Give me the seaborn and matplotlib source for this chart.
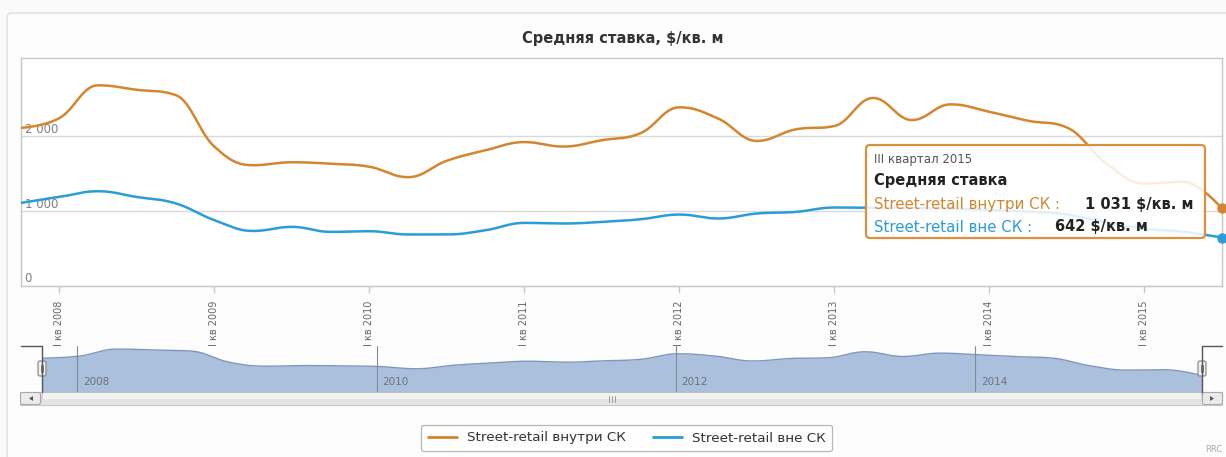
import numpy as np
import pandas as pd
import matplotlib
matplotlib.use("Agg")
import matplotlib.pyplot as plt
from matplotlib.patches import FancyBboxPatch, Rectangle, Polygon
from matplotlib.lines import Line2D
import seaborn as sns

# ---- data: average rent, $/sq. m, quarterly from Q4 2007 to Q3 2015 ----
inside_sc = [2110, 2240, 2680, 2620, 2550, 1860, 1610, 1650, 1630, 1590, 1450, 1670,
             1810, 1920, 1860, 1945, 2040, 2385, 2235, 1935, 2090, 2135, 2510, 2215,
             2425, 2325, 2205, 2115, 1640, 1365, 1390, 1031]
outside_sc = [1105, 1185, 1262, 1185, 1100, 875, 730, 785, 718, 727, 683, 683,
              740, 838, 830, 851, 887, 950, 897, 964, 985, 1044, 1040, 1035,
              1030, 1010, 990, 950, 850, 760, 720, 642]
series_names = ["Street-retail внутри СК", "Street-retail вне СК"]
tick_years = [2008, 2009, 2010, 2011, 2012, 2013, 2014, 2015]
tick_labels = [f"I кв {y}" for y in tick_years]
nav_years = [2008, 2010, 2012, 2014]
y_ticks = [0, 1000, 2000]

title = "Средняя ставка, $/кв. м"
tooltip_period = "III квартал 2015"
tooltip_title = "Средняя ставка"
unit = "$/кв. м"

C_IN = "#d4862f"
C_OUT = "#2b9cd8"
NAV_FILL = "#abc0dc"
NAV_LINE = "#7d96ba"

W, H = 1226, 457


def fmt(v):
    return f"{int(v):,}".replace(",", " ")


def spline_path(xs, ys, n=30, smoothing=1.5):
    """Smooth Bezier path through the points (Highcharts-style spline)."""
    N = len(xs)
    lc = [None] * N
    rc = [None] * N
    d = smoothing + 1
    for i in range(1, N - 1):
        x0, y0 = xs[i - 1], ys[i - 1]
        x, y = xs[i], ys[i]
        x1, y1 = xs[i + 1], ys[i + 1]
        lx = (smoothing * x + x0) / d
        ly = (smoothing * y + y0) / d
        rx = (smoothing * x + x1) / d
        ry = (smoothing * y + y1) / d
        corr = ((ry - ly) * (rx - x)) / (rx - lx) + y - ry
        ly += corr
        ry += corr
        if ly > y0 and ly > y:
            ly = max(y0, y); ry = 2 * y - ly
        elif ly < y0 and ly < y:
            ly = min(y0, y); ry = 2 * y - ly
        if ry > y1 and ry > y:
            ry = max(y1, y); ly = 2 * y - ry
        elif ry < y1 and ry < y:
            ry = min(y1, y); ly = 2 * y - ry
        lc[i] = (lx, ly)
        rc[i] = (rx, ry)
    px, py = [xs[0]], [ys[0]]
    t = np.linspace(0, 1, n)[1:]
    for i in range(1, N):
        p0 = np.array([xs[i - 1], ys[i - 1]], float)
        p3 = np.array([xs[i], ys[i]], float)
        p1 = np.array(rc[i - 1] if rc[i - 1] else p0, float)
        p2 = np.array(lc[i] if lc[i] else p3, float)
        b = ((1 - t) ** 3)[:, None] * p0 + (3 * (1 - t) ** 2 * t)[:, None] * p1 \
            + (3 * (1 - t) * t ** 2)[:, None] * p2 + (t ** 3)[:, None] * p3
        px.extend(b[:, 0]); py.extend(b[:, 1])
    return np.array(px), np.array(py)


def box(l, t, r, b):
    return [l / W, 1 - b / H, (r - l) / W, (b - t) / H]


sns.set_style("white")
plt.rcParams["font.family"] = ["DejaVu Sans"]

fig = plt.figure(figsize=(W / 100, H / 100), dpi=100, facecolor="#fafafa")

# background layer (pixel coordinates)
bg = fig.add_axes([0, 0, 1, 1], zorder=0)
bg.set_xlim(0, W); bg.set_ylim(H, 0); bg.axis("off")
bg.add_patch(FancyBboxPatch((7, 13), 1240, 460, boxstyle="round,pad=0,rounding_size=5",
                            fc="#fdfdfd", ec="#e2e2e2", lw=1.2))
bg.text(623, 38, title, ha="center", va="center", fontsize=10.5, fontweight="bold", color="#333333")
bg.text(1222, 450, "RRC", ha="right", va="center", fontsize=6, color="#aaaaaa")

idx = np.arange(len(inside_sc))

# ---- main chart ----
ax = fig.add_axes(box(20.5, 58, 1222, 285.5), zorder=2)
ax.set_facecolor("white")
ymax = (285.5 - 58) / 74.7 * 1000
ax.set_xlim(0, len(idx) - 1)
ax.set_ylim(0, ymax)
for v in y_ticks[1:]:
    ax.axhline(v, color="#d9d9d9", lw=1, zorder=1)

main_df = []
for name, vals in zip(series_names, [inside_sc, outside_sc]):
    px, py = spline_path(idx, vals)
    main_df.append(pd.DataFrame({"x": px, "y": py, "series": name}))
main_df = pd.concat(main_df, ignore_index=True)
sns.lineplot(data=main_df, x="x", y="y", hue="series", palette=[C_IN, C_OUT],
             sort=False, estimator=None, lw=1.8, ax=ax, legend=False, zorder=3)
ax.plot(idx[-1], inside_sc[-1], "o", color=C_IN, ms=6.5, clip_on=False, zorder=4)
ax.plot(idx[-1], outside_sc[-1], "o", color=C_OUT, ms=6.5, clip_on=False, zorder=4)

ax.set_xticks([1 + 4 * k for k in range(len(tick_labels))])
ax.set_xticklabels(tick_labels, rotation=90, va="top", ha="center")
ax.tick_params(axis="x", length=5, width=1, color="#c8c8c8", labelsize=7,
               labelcolor="#666666", pad=6, bottom=True)
ax.set_yticks(y_ticks)
ax.set_yticklabels([fmt(v) for v in y_ticks])
ax.tick_params(axis="y", length=0, pad=-3, labelsize=8.5, labelcolor="#808080")
for lbl in ax.get_yticklabels():
    lbl.set_horizontalalignment("left")
    lbl.set_verticalalignment("bottom")
ax.set_xlabel(""); ax.set_ylabel("")
for s in ax.spines.values():
    s.set_color("#c6c6c6"); s.set_linewidth(1)

# ---- navigator ----
nav = fig.add_axes(box(42, 346, 1202, 392), zorder=1)
nav.set_facecolor("none")
nav.set_xlim(0, len(idx) - 1)
nav.set_ylim(0, 2870)
nx, ny = spline_path(idx, inside_sc)
nav.fill_between(nx, 0, ny, color=NAV_FILL, lw=0, zorder=1)
sns.lineplot(x=nx, y=ny, sort=False, estimator=None, color=NAV_LINE, lw=1, ax=nav, zorder=2)
for y in nav_years:
    xq = 1 + 4 * (y - 2008) - 0.06
    nav.axvline(xq, color="#7f8c99", lw=0.8, zorder=3)
    nav.text(xq + 0.15, 0.22, str(y), transform=nav.get_xaxis_transform(),
             fontsize=7.5, color="#6a7380", va="center", ha="left", zorder=4)
nav.axis("off")

# ---- overlay: navigator handles, scrollbar, tooltip ----
ov = fig.add_axes([0, 0, 1, 1], zorder=5)
ov.set_xlim(0, W); ov.set_ylim(H, 0); ov.axis("off"); ov.patch.set_alpha(0)

ov.plot([21, 42, 42], [346, 346, 392], color="#555555", lw=1)
ov.plot([1222, 1202, 1202], [346, 346, 392], color="#555555", lw=1)
for hx in (42, 1202):
    ov.add_patch(FancyBboxPatch((hx - 4, 361), 8, 15, boxstyle="round,pad=0,rounding_size=2",
                                fc="#efefef", ec="#8a8a8a", lw=0.9))
    ov.plot([hx - 1, hx - 1], [365, 372], color="#777777", lw=0.7)
    ov.plot([hx + 1, hx + 1], [365, 372], color="#777777", lw=0.7)

# scrollbar track, thumb and buttons
ov.add_patch(Rectangle((20, 392), 1202, 13, fc="#eeeeee", ec="#c8c8c8", lw=0.8))
ov.add_patch(FancyBboxPatch((42, 392.5), 1160, 12, boxstyle="round,pad=0,rounding_size=2",
                            fc="#f3f3f3", ec="#bdbdbd", lw=0.8))
ov.add_patch(Rectangle((42, 398.5), 1160, 6, fc="#e4e4e4", ec="none"))
for gx in (609, 612, 615):
    ov.plot([gx, gx], [395.5, 401.5], color="#999999", lw=0.7)
for bx0 in (20, 1202):
    ov.add_patch(FancyBboxPatch((bx0 + 0.5, 392.5), 20, 12, boxstyle="round,pad=0,rounding_size=2",
                                fc="#ebebeb", ec="#aaaaaa", lw=0.8))
ov.add_patch(Polygon([[29, 398.5], [33, 396], [33, 401]], closed=True, fc="#555555", ec="none"))
ov.add_patch(Polygon([[1214, 398.5], [1210, 396], [1210, 401]], closed=True, fc="#555555", ec="none"))

# tooltip for the last quarter
ov.add_patch(FancyBboxPatch((866, 145), 339, 93, boxstyle="round,pad=0,rounding_size=4",
                            fc=(1, 1, 1, 0.86), ec="#dc8f3c", lw=1.6))
ov.text(874, 159, tooltip_period, fontsize=8.5, color="#555555", va="center")
ov.text(874, 181, tooltip_title, fontsize=10.5, fontweight="bold", color="#222222", va="center")
ov.text(874, 204, f"{series_names[0]} : ", fontsize=10.8, color=C_IN, va="center")
ov.text(1085, 204, f"{fmt(inside_sc[-1])} {unit}", fontsize=10.5, fontweight="bold",
        color="#222222", va="center")
ov.text(874, 227, f"{series_names[1]} : ", fontsize=10.8, color=C_OUT, va="center")
ov.text(1055, 227, f"{fmt(outside_sc[-1])} {unit}", fontsize=10.5, fontweight="bold",
        color="#222222", va="center")

# legend
handles = [Line2D([], [], color=C_IN, lw=2), Line2D([], [], color=C_OUT, lw=2)]
leg = fig.legend(handles, series_names, loc="center", bbox_to_anchor=(626.5 / W, 1 - 438 / H),
                 ncol=2, fontsize=9.7, frameon=True, fancybox=True, handlelength=2.2,
                 handletextpad=0.7, columnspacing=2.0, borderpad=0.5, labelcolor="#333333")
leg.get_frame().set_edgecolor("#a6a6a6")
leg.get_frame().set_facecolor("white")
leg.get_frame().set_linewidth(0.9)

fig.savefig("out.png", dpi=100, facecolor=fig.get_facecolor())
